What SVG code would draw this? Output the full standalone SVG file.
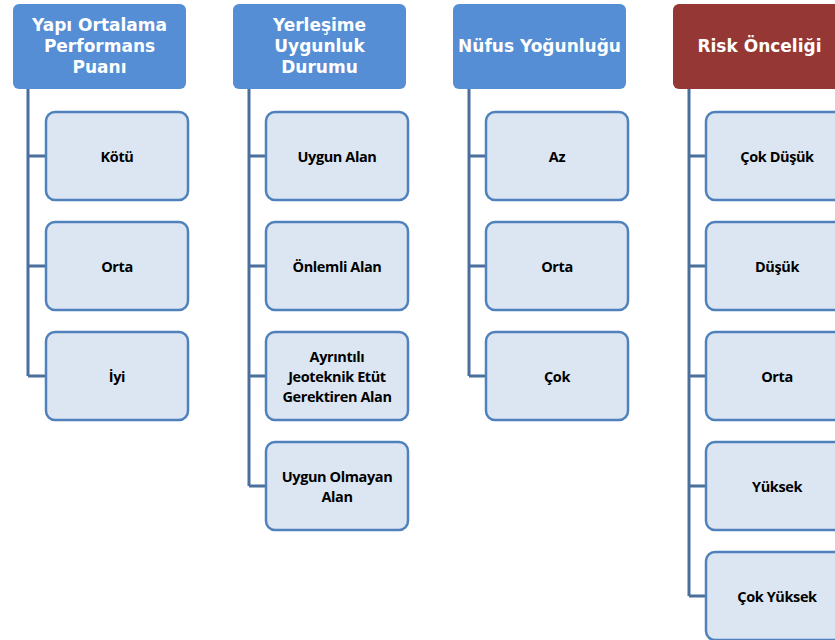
<svg xmlns="http://www.w3.org/2000/svg" width="835" height="640" viewBox="0 0 835 640">
<style>
.hd{fill:#558ed5;}
.hdr{fill:#953735;}
.ht{fill:#fff;font-family:"DejaVu Sans","Liberation Sans",sans-serif;font-weight:bold;font-size:17px;text-anchor:middle;}
.ch{fill:#dce6f2;stroke:#4f81bd;stroke-width:2.5;}
.ct{fill:#000;font-family:"Open Sans","Liberation Sans",sans-serif;font-weight:bold;font-size:14.5px;text-anchor:middle;letter-spacing:-0.4px;}
.ln{fill:none;stroke:#4a6f9c;stroke-width:3;}
</style>
<rect width="835" height="640" fill="#fff"/>
<g id="connectors">
<path class="ln" d="M28,89 V376 M28,156 H46 M28,266 H46 M28,376 H46"/>
<path class="ln" d="M249,89 V486 M249,156 H266 M249,266 H266 M249,376 H266 M249,486 H266"/>
<path class="ln" d="M469,89 V376 M469,156 H486 M469,266 H486 M469,376 H486"/>
<path class="ln" d="M689,89 V596 M689,156 H706 M689,266 H706 M689,376 H706 M689,486 H706 M689,596 H706"/>
</g>
<g id="h1"><rect class="hd" x="13" y="4" width="173" height="85" rx="6"/>
<text class="ht" x="99.5" y="31">Yapı Ortalama</text><text class="ht" x="99.5" y="52">Performans</text><text class="ht" x="99.5" y="73">Puanı</text></g>
<g id="h2"><rect class="hd" x="233" y="4" width="173" height="85" rx="6"/>
<text class="ht" x="319.5" y="31">Yerleşime</text><text class="ht" x="319.5" y="52">Uygunluk</text><text class="ht" x="319.5" y="73">Durumu</text></g>
<g id="h3"><rect class="hd" x="453" y="4" width="173" height="85" rx="6"/>
<text class="ht" x="539.5" y="52">Nüfus Yoğunluğu</text></g>
<g id="h4"><rect class="hdr" x="673" y="4" width="173" height="85" rx="6"/>
<text class="ht" x="759.5" y="52">Risk Önceliği</text></g>

<g id="c1a"><rect class="ch" x="46" y="112" width="142" height="88" rx="9"/><text class="ct" x="117" y="162">Kötü</text></g>
<g id="c1b"><rect class="ch" x="46" y="222" width="142" height="88" rx="9"/><text class="ct" x="117" y="272">Orta</text></g>
<g id="c1c"><rect class="ch" x="46" y="332" width="142" height="88" rx="9"/><text class="ct" x="117" y="382">İyi</text></g>

<g id="c2a"><rect class="ch" x="266" y="112" width="142" height="88" rx="9"/><text class="ct" x="337" y="162">Uygun Alan</text></g>
<g id="c2b"><rect class="ch" x="266" y="222" width="142" height="88" rx="9"/><text class="ct" x="337" y="272">Önlemli Alan</text></g>
<g id="c2c"><rect class="ch" x="266" y="332" width="142" height="88" rx="9"/><text class="ct" x="337" y="362">Ayrıntılı</text><text class="ct" x="337" y="382">Jeoteknik Etüt</text><text class="ct" x="337" y="402">Gerektiren  Alan</text></g>
<g id="c2d"><rect class="ch" x="266" y="442" width="142" height="88" rx="9"/><text class="ct" x="337" y="482">Uygun Olmayan</text><text class="ct" x="337" y="502">Alan</text></g>

<g id="c3a"><rect class="ch" x="486" y="112" width="142" height="88" rx="9"/><text class="ct" x="557" y="162">Az</text></g>
<g id="c3b"><rect class="ch" x="486" y="222" width="142" height="88" rx="9"/><text class="ct" x="557" y="272">Orta</text></g>
<g id="c3c"><rect class="ch" x="486" y="332" width="142" height="88" rx="9"/><text class="ct" x="557" y="382">Çok</text></g>

<g id="c4a"><rect class="ch" x="706" y="112" width="142" height="88" rx="9"/><text class="ct" x="777" y="162">Çok Düşük</text></g>
<g id="c4b"><rect class="ch" x="706" y="222" width="142" height="88" rx="9"/><text class="ct" x="777" y="272">Düşük</text></g>
<g id="c4c"><rect class="ch" x="706" y="332" width="142" height="88" rx="9"/><text class="ct" x="777" y="382">Orta</text></g>
<g id="c4d"><rect class="ch" x="706" y="442" width="142" height="88" rx="9"/><text class="ct" x="777" y="492">Yüksek</text></g>
<g id="c4e"><rect class="ch" x="706" y="552" width="142" height="88" rx="9"/><text class="ct" x="777" y="602">Çok Yüksek</text></g>
</svg>
